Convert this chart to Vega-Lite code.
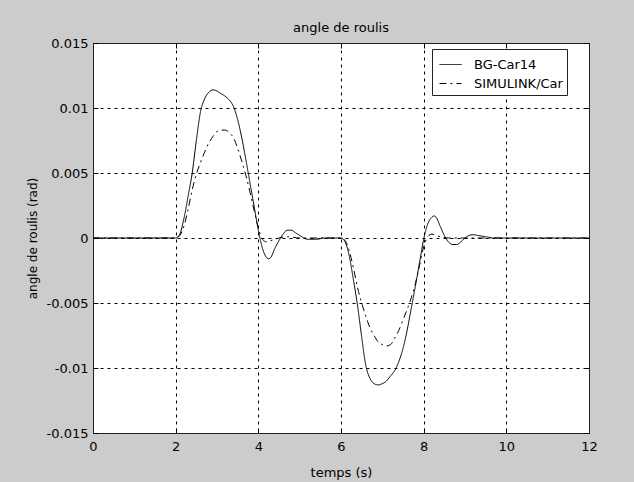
{
  "$schema": "https://vega.github.io/schema/vega-lite/v6.json",
  "width": 496,
  "height": 390,
  "autosize": {"type": "none"},
  "padding": {"left": 93, "top": 43, "right": 45, "bottom": 49},
  "background": "#cccccc",
  "title": {"text": "angle de roulis", "fontSize": 13, "fontWeight": "normal", "font": "DejaVu Sans", "color": "black", "offset": 2},
  "config": {
    "view": {"fill": "white", "stroke": "#222222", "strokeWidth": 1},
    "axis": {"labelFont": "DejaVu Sans", "titleFont": "DejaVu Sans", "labelFontSize": 13, "titleFontSize": 13, "titleFontWeight": "normal", "labelColor": "black", "titleColor": "black", "domainColor": "#222222", "tickColor": "black", "gridColor": "black", "gridOpacity": 1, "gridDash": [3, 4], "gridWidth": 1}
  },
  "data": {"values": [
    {"t": 0, "v": 0, "s": "BG-Car14"},
    {"t": 1, "v": 0, "s": "BG-Car14"},
    {"t": 2.0, "v": 0, "s": "BG-Car14"},
    {"t": 2.1, "v": 0.0003, "s": "BG-Car14"},
    {"t": 2.2, "v": 0.0015, "s": "BG-Car14"},
    {"t": 2.3, "v": 0.0032, "s": "BG-Car14"},
    {"t": 2.4, "v": 0.005, "s": "BG-Car14"},
    {"t": 2.5, "v": 0.0075, "s": "BG-Car14"},
    {"t": 2.6, "v": 0.0097, "s": "BG-Car14"},
    {"t": 2.7, "v": 0.0107, "s": "BG-Car14"},
    {"t": 2.8, "v": 0.0112, "s": "BG-Car14"},
    {"t": 2.9, "v": 0.0114, "s": "BG-Car14"},
    {"t": 3.0, "v": 0.0113, "s": "BG-Car14"},
    {"t": 3.1, "v": 0.0111, "s": "BG-Car14"},
    {"t": 3.2, "v": 0.0109, "s": "BG-Car14"},
    {"t": 3.3, "v": 0.0106, "s": "BG-Car14"},
    {"t": 3.4, "v": 0.0101, "s": "BG-Car14"},
    {"t": 3.5, "v": 0.0091, "s": "BG-Car14"},
    {"t": 3.6, "v": 0.0077, "s": "BG-Car14"},
    {"t": 3.7, "v": 0.006, "s": "BG-Car14"},
    {"t": 3.8, "v": 0.0042, "s": "BG-Car14"},
    {"t": 3.9, "v": 0.0024, "s": "BG-Car14"},
    {"t": 4.0, "v": 0.0006, "s": "BG-Car14"},
    {"t": 4.1, "v": -0.0008, "s": "BG-Car14"},
    {"t": 4.2, "v": -0.0015, "s": "BG-Car14"},
    {"t": 4.25, "v": -0.0016, "s": "BG-Car14"},
    {"t": 4.3, "v": -0.0015, "s": "BG-Car14"},
    {"t": 4.4, "v": -0.0008, "s": "BG-Car14"},
    {"t": 4.5, "v": -0.0002, "s": "BG-Car14"},
    {"t": 4.6, "v": 0.0003, "s": "BG-Car14"},
    {"t": 4.7, "v": 0.0006, "s": "BG-Car14"},
    {"t": 4.8, "v": 0.0006, "s": "BG-Car14"},
    {"t": 4.9, "v": 0.0004, "s": "BG-Car14"},
    {"t": 5.0, "v": 0.0002, "s": "BG-Car14"},
    {"t": 5.2, "v": -0.0001, "s": "BG-Car14"},
    {"t": 5.4, "v": -0.0001, "s": "BG-Car14"},
    {"t": 5.6, "v": 0, "s": "BG-Car14"},
    {"t": 6.0, "v": 0, "s": "BG-Car14"},
    {"t": 6.1, "v": -0.0003, "s": "BG-Car14"},
    {"t": 6.2, "v": -0.0014, "s": "BG-Car14"},
    {"t": 6.3, "v": -0.0032, "s": "BG-Car14"},
    {"t": 6.4, "v": -0.0052, "s": "BG-Car14"},
    {"t": 6.5, "v": -0.0076, "s": "BG-Car14"},
    {"t": 6.6, "v": -0.0098, "s": "BG-Car14"},
    {"t": 6.7, "v": -0.0108, "s": "BG-Car14"},
    {"t": 6.8, "v": -0.0112, "s": "BG-Car14"},
    {"t": 6.9, "v": -0.0113, "s": "BG-Car14"},
    {"t": 7.0, "v": -0.0112, "s": "BG-Car14"},
    {"t": 7.1, "v": -0.011, "s": "BG-Car14"},
    {"t": 7.2, "v": -0.0106, "s": "BG-Car14"},
    {"t": 7.3, "v": -0.0102, "s": "BG-Car14"},
    {"t": 7.4, "v": -0.0095, "s": "BG-Car14"},
    {"t": 7.5, "v": -0.0085, "s": "BG-Car14"},
    {"t": 7.6, "v": -0.0071, "s": "BG-Car14"},
    {"t": 7.7, "v": -0.0054, "s": "BG-Car14"},
    {"t": 7.8, "v": -0.0037, "s": "BG-Car14"},
    {"t": 7.9, "v": -0.0019, "s": "BG-Car14"},
    {"t": 8.0, "v": -0.0001, "s": "BG-Car14"},
    {"t": 8.1, "v": 0.0011, "s": "BG-Car14"},
    {"t": 8.2, "v": 0.0016, "s": "BG-Car14"},
    {"t": 8.25, "v": 0.0017, "s": "BG-Car14"},
    {"t": 8.3, "v": 0.0016, "s": "BG-Car14"},
    {"t": 8.4, "v": 0.0009, "s": "BG-Car14"},
    {"t": 8.5, "v": 0.0002, "s": "BG-Car14"},
    {"t": 8.6, "v": -0.0003, "s": "BG-Car14"},
    {"t": 8.7, "v": -0.0005, "s": "BG-Car14"},
    {"t": 8.8, "v": -0.0005, "s": "BG-Car14"},
    {"t": 8.9, "v": -0.0003, "s": "BG-Car14"},
    {"t": 9.0, "v": 0, "s": "BG-Car14"},
    {"t": 9.1, "v": 0.0002, "s": "BG-Car14"},
    {"t": 9.2, "v": 0.00025, "s": "BG-Car14"},
    {"t": 9.3, "v": 0.0002, "s": "BG-Car14"},
    {"t": 9.5, "v": 0.0001, "s": "BG-Car14"},
    {"t": 9.7, "v": 0, "s": "BG-Car14"},
    {"t": 10, "v": 0, "s": "BG-Car14"},
    {"t": 12, "v": 0, "s": "BG-Car14"},
    {"t": 0, "v": 0, "s": "SIMULINK/Car"},
    {"t": 1, "v": 0, "s": "SIMULINK/Car"},
    {"t": 2.0, "v": 0, "s": "SIMULINK/Car"},
    {"t": 2.1, "v": 0.0002, "s": "SIMULINK/Car"},
    {"t": 2.2, "v": 0.0009, "s": "SIMULINK/Car"},
    {"t": 2.3, "v": 0.0022, "s": "SIMULINK/Car"},
    {"t": 2.4, "v": 0.0037, "s": "SIMULINK/Car"},
    {"t": 2.5, "v": 0.0049, "s": "SIMULINK/Car"},
    {"t": 2.6, "v": 0.0058, "s": "SIMULINK/Car"},
    {"t": 2.7, "v": 0.0066, "s": "SIMULINK/Car"},
    {"t": 2.8, "v": 0.0073, "s": "SIMULINK/Car"},
    {"t": 2.9, "v": 0.0078, "s": "SIMULINK/Car"},
    {"t": 3.0, "v": 0.0082, "s": "SIMULINK/Car"},
    {"t": 3.1, "v": 0.0083, "s": "SIMULINK/Car"},
    {"t": 3.2, "v": 0.0083, "s": "SIMULINK/Car"},
    {"t": 3.3, "v": 0.0081, "s": "SIMULINK/Car"},
    {"t": 3.4, "v": 0.0077, "s": "SIMULINK/Car"},
    {"t": 3.5, "v": 0.0069, "s": "SIMULINK/Car"},
    {"t": 3.6, "v": 0.0059, "s": "SIMULINK/Car"},
    {"t": 3.7, "v": 0.0048, "s": "SIMULINK/Car"},
    {"t": 3.8, "v": 0.0035, "s": "SIMULINK/Car"},
    {"t": 3.9, "v": 0.0021, "s": "SIMULINK/Car"},
    {"t": 4.0, "v": 0.0008, "s": "SIMULINK/Car"},
    {"t": 4.1, "v": -0.0001, "s": "SIMULINK/Car"},
    {"t": 4.2, "v": -0.0003, "s": "SIMULINK/Car"},
    {"t": 4.3, "v": -0.0002, "s": "SIMULINK/Car"},
    {"t": 4.4, "v": -0.0001, "s": "SIMULINK/Car"},
    {"t": 4.5, "v": 0, "s": "SIMULINK/Car"},
    {"t": 4.7, "v": 0.0001, "s": "SIMULINK/Car"},
    {"t": 5.0, "v": 0, "s": "SIMULINK/Car"},
    {"t": 6.0, "v": 0, "s": "SIMULINK/Car"},
    {"t": 6.1, "v": -0.0002, "s": "SIMULINK/Car"},
    {"t": 6.2, "v": -0.001, "s": "SIMULINK/Car"},
    {"t": 6.3, "v": -0.0023, "s": "SIMULINK/Car"},
    {"t": 6.4, "v": -0.0038, "s": "SIMULINK/Car"},
    {"t": 6.5, "v": -0.005, "s": "SIMULINK/Car"},
    {"t": 6.6, "v": -0.006, "s": "SIMULINK/Car"},
    {"t": 6.7, "v": -0.0069, "s": "SIMULINK/Car"},
    {"t": 6.8, "v": -0.0075, "s": "SIMULINK/Car"},
    {"t": 6.9, "v": -0.008, "s": "SIMULINK/Car"},
    {"t": 7.0, "v": -0.0082, "s": "SIMULINK/Car"},
    {"t": 7.1, "v": -0.0083, "s": "SIMULINK/Car"},
    {"t": 7.2, "v": -0.0082, "s": "SIMULINK/Car"},
    {"t": 7.3, "v": -0.0077, "s": "SIMULINK/Car"},
    {"t": 7.4, "v": -0.0071, "s": "SIMULINK/Car"},
    {"t": 7.5, "v": -0.0063, "s": "SIMULINK/Car"},
    {"t": 7.6, "v": -0.0055, "s": "SIMULINK/Car"},
    {"t": 7.7, "v": -0.0046, "s": "SIMULINK/Car"},
    {"t": 7.8, "v": -0.0035, "s": "SIMULINK/Car"},
    {"t": 7.9, "v": -0.0021, "s": "SIMULINK/Car"},
    {"t": 8.0, "v": -0.0007, "s": "SIMULINK/Car"},
    {"t": 8.1, "v": 0.0001, "s": "SIMULINK/Car"},
    {"t": 8.2, "v": 0.0003, "s": "SIMULINK/Car"},
    {"t": 8.3, "v": 0.0002, "s": "SIMULINK/Car"},
    {"t": 8.4, "v": 0.0001, "s": "SIMULINK/Car"},
    {"t": 8.6, "v": 0, "s": "SIMULINK/Car"},
    {"t": 10, "v": 0, "s": "SIMULINK/Car"},
    {"t": 12, "v": 0, "s": "SIMULINK/Car"}
  ]},
  "layer": [
    {
      "mark": {"type": "line", "interpolate": "monotone", "color": "black", "strokeWidth": 1, "clip": true},
      "encoding": {
        "x": {"field": "t", "type": "quantitative", "scale": {"domain": [0, 12], "nice": false},
          "axis": {"values": [0, 2, 4, 6, 8, 10, 12], "title": "temps (s)", "tickSize": -5, "labelPadding": 12, "titlePadding": 13, "grid": true, "labelFlush": false}},
        "y": {"field": "v", "type": "quantitative", "scale": {"domain": [-0.015, 0.015], "nice": false, "zero": false},
          "axis": {"values": [-0.015, -0.01, -0.005, 0, 0.005, 0.01, 0.015], "labelExpr": "'' + datum.value", "title": "angle de roulis (rad)", "titleFontSize": 12, "tickSize": -5, "labelPadding": 10, "titlePadding": 7, "grid": true, "labelFlush": false}},
        "strokeDash": {"field": "s", "type": "nominal",
          "scale": {"domain": ["BG-Car14", "SIMULINK/Car"], "range": [[1, 0], [7, 4, 2, 4]]},
          "legend": {"title": null, "orient": "none", "legendX": 339, "legendY": 6, "strokeColor": "#222222", "fillColor": "white", "padding": 4, "symbolOffset": 3, "symbolType": "stroke", "symbolSize": 484, "symbolStrokeWidth": 1, "symbolStrokeColor": "black", "labelFont": "DejaVu Sans", "labelFontSize": 13, "labelColor": "black", "rowPadding": -7, "labelOffset": 12, "labelExpr": "datum.label + '\u00a0\u00a0\u00a0'"}}
      }
    },
    {
      "mark": {"type": "line", "opacity": 0},
      "encoding": {
        "x": {"field": "t", "type": "quantitative", "axis": {"orient": "top", "values": [0, 2, 4, 6, 8, 10, 12], "labels": false, "title": null, "grid": false, "tickSize": -5}},
        "y": {"field": "v", "type": "quantitative", "axis": {"orient": "right", "values": [-0.015, -0.01, -0.005, 0, 0.005, 0.01, 0.015], "labels": false, "title": null, "grid": false, "tickSize": -5}},
        "detail": {"field": "s"}
      }
    }
  ],
  "resolve": {"axis": {"x": "independent", "y": "independent"}}
}
